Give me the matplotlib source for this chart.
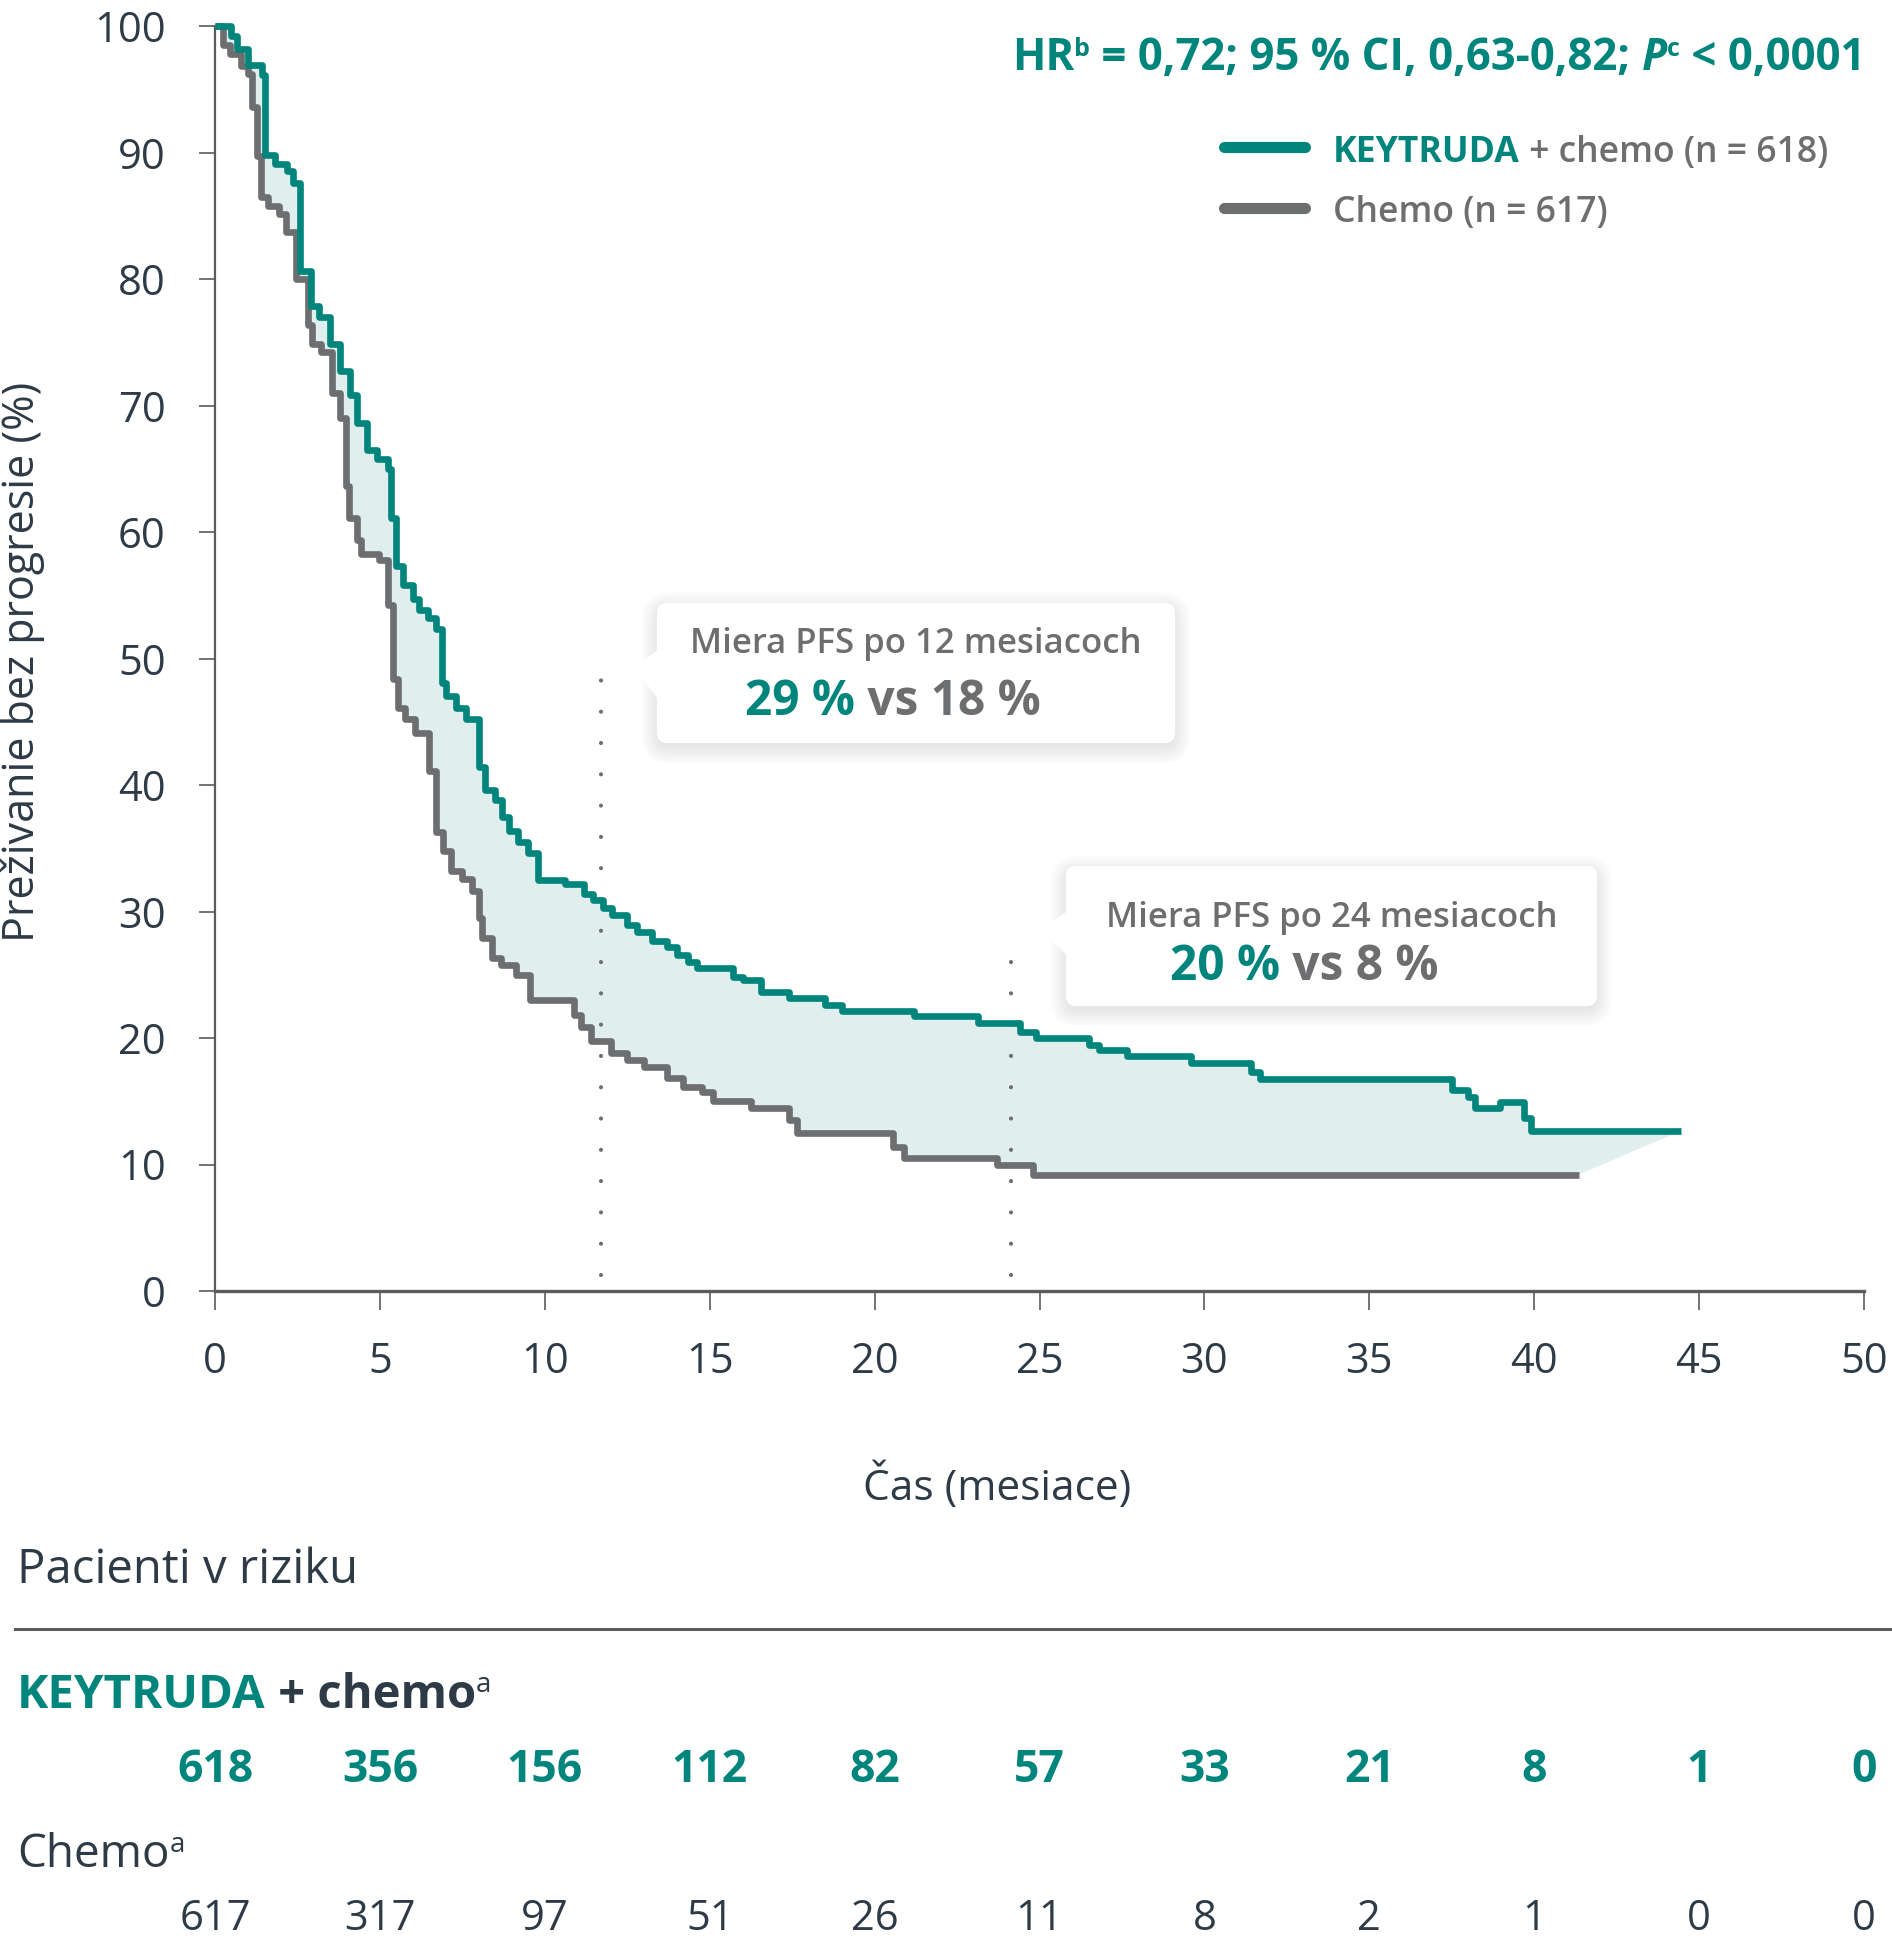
import numpy as np
import matplotlib
matplotlib.use("Agg")
import matplotlib.pyplot as plt
from matplotlib.patches import FancyBboxPatch, Polygon
from matplotlib.lines import Line2D
from matplotlib.text import Annotation
from matplotlib.transforms import Affine2D, blended_transform_factory

plt.rcParams["font.family"] = ["Open Sans", "DejaVu Sans"]

TEAL = "#00857c"
GRAY = "#6d6e70"
DARK = "#2e3b46"
FILL = "#e1eeee"
AXIS = "#5b5b5b"

# Kaplan-Meier steps (months, % progression free)
kt_time = [0, 0.47, 0.68, 1.01, 1.42, 1.53, 1.83, 2.17, 2.37, 2.57, 2.9, 3.14, 3.5, 3.8,
           4.1, 4.3, 4.6, 4.9, 5.24, 5.35, 5.5, 5.7, 6.0, 6.2, 6.45, 6.7, 6.87, 7.0, 7.3,
           7.6, 8.0, 8.2, 8.5, 8.7, 8.9, 9.2, 9.5, 9.8, 10.6, 11.2, 11.45, 11.75, 12.05,
           12.5, 12.8, 13.26, 13.7, 14.0, 14.35, 14.6, 15.7, 16.0, 16.55, 17.4, 18.5, 19.0,
           21.2, 23.15, 24.4, 24.9, 26.5, 26.8, 27.65, 29.6, 31.4, 31.7, 37.5, 38.0, 38.2,
           38.95, 39.7, 39.9]
kt_surv = [100, 99.2, 98.2, 96.9, 96.1, 89.8, 89.1, 88.5, 87.6, 80.6, 77.9, 77.0, 74.9, 72.7,
           70.8, 68.6, 66.5, 65.8, 65.0, 61.1, 57.3, 55.8, 54.7, 53.8, 53.2, 52.3, 48.1, 47.0,
           46.1, 45.2, 41.4, 39.6, 38.8, 37.5, 36.4, 35.5, 34.6, 32.5, 32.2, 31.4, 30.9, 30.3,
           29.7, 28.9, 28.4, 27.7, 27.2, 26.6, 26.0, 25.5, 24.8, 24.6, 23.6, 23.2, 22.6, 22.1,
           21.7, 21.2, 20.5, 20.0, 19.45, 19.05, 18.6, 18.0, 17.3, 16.75, 15.9, 15.35, 14.5,
           14.95, 13.7, 12.65]
kt_last = 44.45

ch_time = [0, 0.25, 0.45, 0.79, 0.99, 1.13, 1.27, 1.39, 1.6, 1.94, 2.14, 2.47, 2.81, 2.95,
           3.22, 3.56, 3.8, 3.96, 4.05, 4.3, 4.44, 4.98, 5.25, 5.39, 5.54, 5.75, 6.05, 6.5,
           6.7, 6.9, 7.17, 7.5, 7.8, 8.0, 8.1, 8.4, 8.68, 9.14, 9.54, 10.9, 11.1, 11.4, 12.0,
           12.5, 13.0, 13.7, 14.2, 14.76, 15.1, 16.25, 17.4, 17.65, 20.55, 20.9, 23.7, 24.8]
ch_surv = [100, 98.5, 97.8, 96.8, 96.2, 93.6, 89.7, 86.5, 85.8, 85.1, 83.7, 80.0, 76.4, 74.9,
           74.2, 71.0, 69.0, 63.6, 61.1, 59.4, 58.3, 57.8, 54.2, 48.4, 46.1, 45.2, 44.1, 41.1,
           36.3, 34.8, 33.2, 32.6, 31.6, 29.5, 27.9, 26.3, 25.8, 25.0, 23.0, 21.8, 20.9, 19.8,
           18.8, 18.3, 17.7, 16.8, 16.1, 15.7, 15.0, 14.5, 13.5, 12.5, 11.4, 10.5, 10.0, 9.2]
ch_last = 41.35

risk_months = [0, 5, 10, 15, 20, 25, 30, 35, 40, 45, 50]
kt_at_risk = [618, 356, 156, 112, 82, 57, 33, 21, 8, 1, 0]
ch_at_risk = [617, 317, 97, 51, 26, 11, 8, 2, 1, 0, 0]

landmark_months = [11.7, 24.15]
landmark_tops = [49.2, 28.3]

W, H = 1892, 1942
fig = plt.figure(figsize=(W / 100, H / 100), dpi=100)
px = Affine2D().scale(1 / W, -1 / H).translate(0, 1) + fig.transFigure
ax = fig.add_axes([215 / W, 1 - 1291 / H, (1864 - 215) / W, (1291 - 26) / H])


def steps(t, s, last):
    tt = list(t) + [last]
    xs, ys = [], []
    for i, v in enumerate(s):
        xs += [tt[i], tt[i + 1]]
        ys += [v, v]
    return xs, ys


kx, ky = steps(kt_time, kt_surv, kt_last)
cx, cy = steps(ch_time, ch_surv, ch_last)
ax.fill(kx + cx[::-1], ky + cy[::-1], color=FILL, lw=0, zorder=1)
for m, top in zip(landmark_months, landmark_tops):
    ax.plot([m, m], [1.3, top], color=GRAY, lw=3.0, linestyle=(0, (0.01, 7.5)),
            dash_capstyle="round", zorder=2)
ax.plot(cx, cy, color=GRAY, lw=4.8, solid_capstyle="butt", zorder=3, clip_on=False)
ax.plot(kx, ky, color=TEAL, lw=4.8, solid_capstyle="butt", zorder=4, clip_on=False)

ax.set_xlim(0, 50)
ax.set_ylim(0, 100)
ax.set_xticks(np.arange(0, 51, 5))
ax.set_yticks(np.arange(0, 101, 10))
for side in ["top", "right"]:
    ax.spines[side].set_visible(False)
for side in ["left", "bottom"]:
    ax.spines[side].set_color(AXIS)
ax.spines["bottom"].set_linewidth(2.4)
ax.spines["left"].set_linewidth(1.6)
ax.tick_params(axis="x", length=14, width=1.2, color=AXIS, pad=22, labelsize=30, labelcolor=DARK)
ax.tick_params(axis="y", length=11.5, width=1.2, color=AXIS, pad=24, labelsize=30, labelcolor=DARK)


def chain(x, y, parts, transform=px, zorder=7):
    # place text pieces one after another on a shared baseline
    first = fig.text(x, y, parts[0][0], transform=transform, ha="left", va="baseline",
                     zorder=zorder, **parts[0][1])
    prev, base = first, first
    for text, kw in parts[1:]:
        kw = dict(kw)
        rise = kw.pop("rise", 0)
        a = Annotation(text, xy=(1, rise), xycoords=(prev, base), ha="left", va="bottom",
                       annotation_clip=False, zorder=zorder, **kw)
        fig.add_artist(a)
        if rise == 0:
            base = a
        prev = a
    return first


def callout(left, top, right, bottom, tip, ptr):
    for i in range(8):
        g = 2 + i * 2.2
        sh = FancyBboxPatch((left - g + 2, top - g + 7), right - left + 2 * g - 4,
                            bottom - top + 2 * g - 4,
                            boxstyle="round,pad=0,rounding_size=%g" % (10 + g),
                            transform=px, fc="black", ec="none", alpha=0.012, zorder=5)
        fig.add_artist(sh)
    box = FancyBboxPatch((left, top), right - left, bottom - top,
                         boxstyle="round,pad=0,rounding_size=10", transform=px,
                         fc="white", ec="none", zorder=6)
    fig.add_artist(box)
    tri = Polygon([(left + 3, ptr[0]), tip, (left + 3, ptr[1])], closed=True,
                  transform=px, fc="white", ec="none", zorder=6)
    fig.add_artist(tri)


callout(657, 603, 1175, 743, (635, 668), (648, 702))
callout(1066, 866, 1597, 1006, (1040, 930), (910, 957))

big = dict(fontsize=34.5, fontweight="bold")
fig.text(916, 653, "Miera PFS po 12 mesiacoch", transform=px, ha="center", va="baseline",
         fontsize=25, color=GRAY, fontweight="semibold", zorder=7)
chain(745, 715, [("29 %", dict(color=TEAL, **big)), (" vs 18 %", dict(color=GRAY, **big))])
fig.text(1332, 927, "Miera PFS po 24 mesiacoch", transform=px, ha="center", va="baseline",
         fontsize=25, color=GRAY, fontweight="semibold", zorder=7)
chain(1170, 980, [("20 %", dict(color=TEAL, **big)), (" vs 8 %", dict(color=GRAY, **big))])

# hazard ratio line
hr = dict(fontsize=31.5, color=TEAL, fontweight="bold")
sup = dict(fontsize=18, color=TEAL, fontweight="bold", rise=0.42)
chain(1012, 70, [("HR", hr), ("b", sup), (" = 0,72; 95 % CI, 0,63-0,82; ", hr),
                 ("P", dict(hr, fontstyle="italic")), ("c", sup), (" < 0,0001", hr)])

# legend
fig.add_artist(Line2D([1224, 1305], [147, 147], transform=px, color=TEAL, lw=8,
                      solid_capstyle="round"))
fig.add_artist(Line2D([1224, 1305], [208, 208], transform=px, color=GRAY, lw=8,
                      solid_capstyle="round"))
chain(1333, 162, [("KEYTRUDA", dict(fontsize=25.6, color=TEAL, fontweight="bold")),
                  (" + chemo (n = 618)", dict(fontsize=25.6, color=GRAY, fontweight="semibold"))])
fig.text(1333, 222, "Chemo (n = 617)", transform=px, ha="left", va="baseline", fontsize=25.6,
         color=GRAY, fontweight="semibold")

# axis titles
fig.text(997, 1500, "Čas (mesiace)", transform=px, ha="center", va="baseline", fontsize=30.5,
         color=DARK)
fig.text(23, 662, "Preživanie bez progresie (%)", transform=px, ha="center", va="center",
         rotation=90, fontsize=31, color=DARK)

# patients at risk table
fig.text(17, 1583, "Pacienti v riziku", transform=px, ha="left", va="baseline", fontsize=34,
         color=DARK)
fig.add_artist(Line2D([15, W], [1629, 1629], transform=px, color=AXIS, lw=2.2))
chain(17, 1708, [("KEYTRUDA", dict(fontsize=34, color=TEAL, fontweight="bold")),
                 (" + chemo", dict(fontsize=34, color=DARK, fontweight="bold")),
                 ("a", dict(fontsize=20, color=DARK, rise=0.42))])
chain(17, 1867, [("Chemo", dict(fontsize=33, color=DARK)),
                 ("a", dict(fontsize=20, color=DARK, rise=0.42))])

row = blended_transform_factory(ax.transData, px)
for m, n in zip(risk_months, kt_at_risk):
    fig.text(m, 1782, str(n), transform=row, ha="center", va="baseline", fontsize=32,
             color=TEAL, fontweight="bold")
for m, n in zip(risk_months, ch_at_risk):
    fig.text(m, 1930, str(n), transform=row, ha="center", va="baseline", fontsize=30,
             color=DARK)

fig.savefig("out.png", dpi=100)
